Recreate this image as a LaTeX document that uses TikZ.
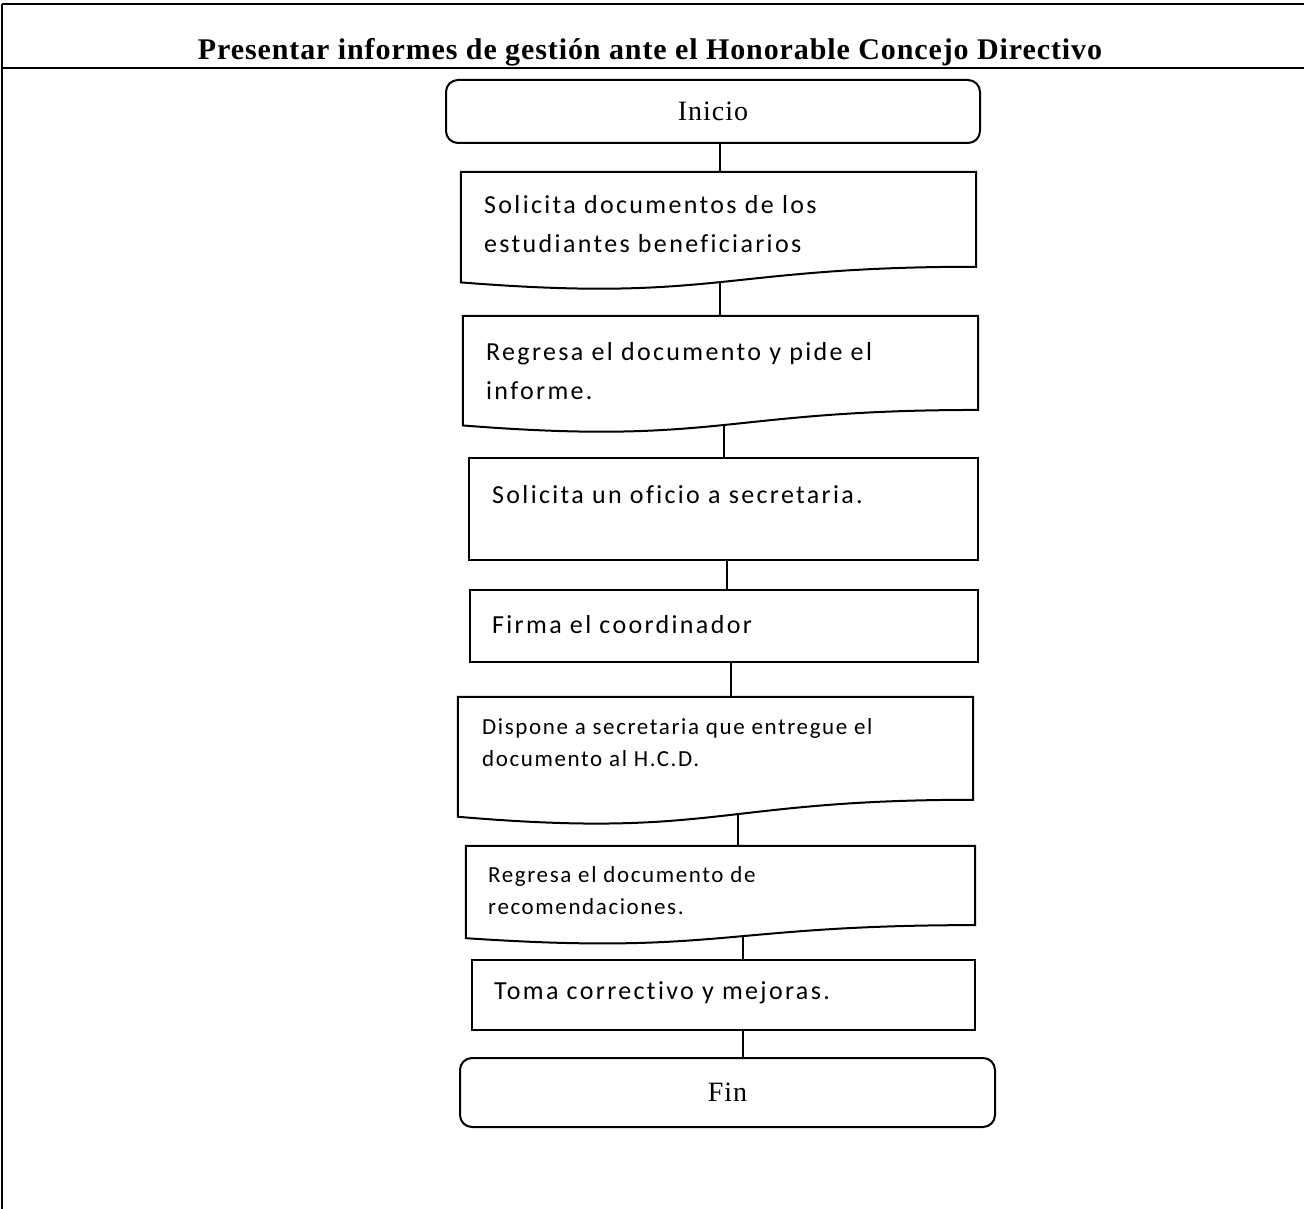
\documentclass[tikz,border=0pt]{standalone}
\usepackage{fontspec}
\setmainfont{Liberation Serif}
\newfontfamily\bodyfont[LetterSpace=9,Ligatures=CommonOff]{Carlito}
\newfontfamily\smallbodyfont[LetterSpace=7,Ligatures=CommonOff]{Carlito}
\newfontfamily\headfont[LetterSpace=3]{Liberation Serif}
\newfontfamily\termfont[LetterSpace=3.5]{Liberation Serif}
\usetikzlibrary{calc}

\tikzset{
  frame/.style={line width=2pt},
  shp/.style={draw, line width=2pt, fill=white},
  box/.style={inner sep=0pt, minimum width=#1},
  term/.style={draw, line width=2pt, rounded corners=12pt, inner sep=0pt,
    font=\termfont\fontsize{28}{32}\selectfont},
  txt/.style={anchor=west, inner sep=0pt, align=left,
    font=\bodyfont\fontsize{26}{39}\selectfont},
  stxt/.style={anchor=west, inner sep=0pt, align=left,
    font=\smallbodyfont\fontsize{23}{32}\selectfont},
  conn/.style={line width=2pt},
}

% flowchart "document" outline drawn over the invisible box #1
\newcommand\docoutline[1]{%
  \draw[shp] (#1.north west) -- (#1.north east)
    -- ($(#1.north east)!0.802!(#1.south east)$)
    .. controls ($(#1.north)!0.802!(#1.south)$)
            and ($(#1.north)!1.1075!(#1.south)$)
    .. ($(#1.north west)!0.934!(#1.south west)$) -- cycle;}

\begin{document}
\begin{tikzpicture}[x=1pt,y=-1pt]
\useasboundingbox (0,0) rectangle (1304,1209);

% table frame and heading
\draw[frame, line width=2.4pt] (1304,4) -- (2,4);
\draw[frame] (2,4) -- (2,1209);
\draw[frame] (2,68) -- (1304,68);
\node[anchor=base, inner sep=0pt, font=\headfont\bfseries\fontsize{30}{32}\selectfont]
  (title) at (650,60)
  {Presentar informes de gestión ante el Honorable Concejo Directivo};

% step boxes (outlines drawn later)
\node[box=534pt, term, minimum height=63pt] (ini) at (713,111.5) {Inicio};
\node[box=515pt, minimum height=118pt] (b1) at (718.5,231) {};
\node[box=515pt, minimum height=117pt] (b2) at (720.5,374.5) {};
\node[box=509pt, minimum height=102pt] (b3) at (723.5,509) {};
\node[box=508pt, minimum height=72pt]  (b4) at (724,626) {};
\node[box=515pt, minimum height=128pt] (b5) at (715.5,761) {};
\node[box=509pt, minimum height=98.5pt] (b6) at (720.5,895.25) {};
\node[box=503pt, minimum height=70pt]  (b7) at (723.5,995) {};
\node[box=535pt, term, minimum height=69pt] (fin) at (727.5,1092.5) {Fin};

% connectors
\draw[conn] ([xshift=7pt]ini.south) -- ([xshift=7pt]ini.south |- b1.north);
\draw[conn] ([xshift=1.5pt]b1.center) -- ([xshift=1.5pt]b1.center |- b2.north);
\draw[conn] ([xshift=3.5pt]b2.center) -- ([xshift=3.5pt]b2.center |- b3.north);
\draw[conn] ([xshift=3.5pt]b3.south) -- ([xshift=3.5pt]b3.south |- b4.north);
\draw[conn] ([xshift=7pt]b4.south) -- ([xshift=7pt]b4.south |- b5.north);
\draw[conn] ([xshift=22.5pt]b5.center) -- ([xshift=22.5pt]b5.center |- b6.north);
\draw[conn] ([xshift=22.5pt]b6.center) -- ([xshift=22.5pt]b6.center |- b7.north);
\draw[conn] ([xshift=19.5pt]b7.south) -- ([xshift=19.5pt]b7.south |- fin.north);

% outlines
\docoutline{b1}
\docoutline{b2}
\draw[shp] (b3.north west) rectangle (b3.south east);
\draw[shp] (b4.north west) rectangle (b4.south east);
\docoutline{b5}
\docoutline{b6}
\draw[shp] (b7.north west) rectangle (b7.south east);

% step texts
\node[txt] (t1) at (484,224.5) {Solicita documentos de los\\estudiantes beneficiarios};
\node[txt] (t2) at (486,371.5) {Regresa el documento y pide el\\informe.};
\node[txt] (t3) at (492,495) {Solicita un oficio a secretaria.};
\node[txt] (t4) at (492,625) {Firma el coordinador};
\node[stxt] (t5) at (482,743) {Dispone a secretaria que entregue el\\documento al H.C.D.};
\node[stxt] (t6) at (488,891) {Regresa el documento de\\recomendaciones.};
\node[txt] (t7) at (494,993) {Toma correctivo y mejoras.};
\end{tikzpicture}
\end{document}
